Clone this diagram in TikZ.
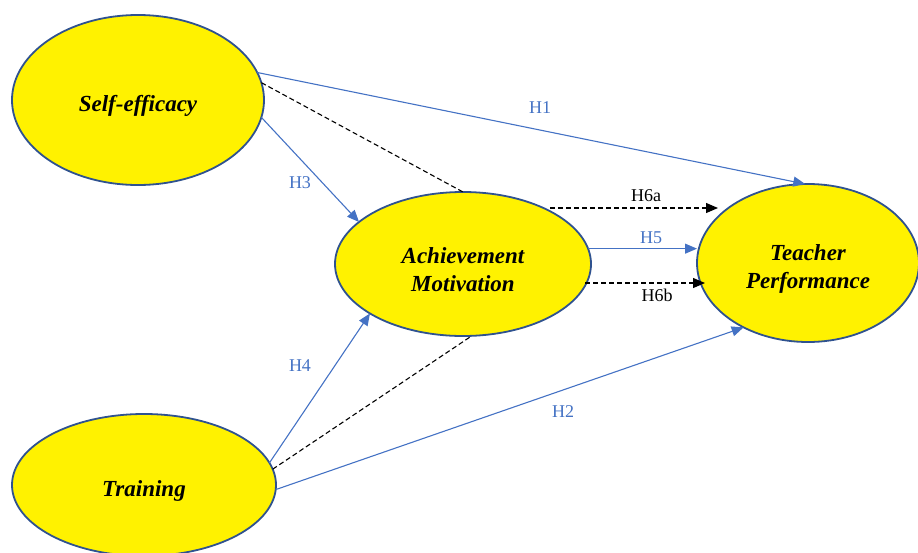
\documentclass[tikz,border=0pt]{standalone}
\usepackage{fontspec}
\setmainfont{Liberation Serif}
\usetikzlibrary{shapes.geometric, arrows.meta}
\definecolor{edgeblue}{RGB}{68,114,196}
\definecolor{rimblue}{RGB}{47,82,143}
\tikzset{>={Triangle[length=12pt,width=10pt]},
construct/.style={ellipse, draw=rimblue, line width=1.8pt, fill=yellow, inner sep=0pt, outer sep=0pt},
constext/.style={yshift=-6pt, align=center, font=\fontsize{23}{28}\selectfont\bfseries\itshape},
hyp/.style={->, draw=edgeblue, line width=1.1pt},
med/.style={black, dash pattern=on 5pt off 3pt, line width=1.1pt},
lbl/.style={font=\fontsize{18}{20}\selectfont, text=edgeblue},
}

\begin{document}
\begin{tikzpicture}[x=1pt, y=-1pt]
    \useasboundingbox (0,0) rectangle (918,552);
    \node[construct, minimum width=252pt, minimum height=170pt,
      label={[constext, name=se-text]center:Self-efficacy}] (se) at (138,100) {};
    \node[construct, minimum width=256pt, minimum height=144pt,
      label={[constext, name=am-text]center:Achievement\\Motivation}] (am) at (463,264) {};
    \node[construct, minimum width=222pt, minimum height=158pt,
      label={[constext, name=tp-text]center:Teacher\\Performance}] (tp) at (808,263) {};
    \node[construct, minimum width=264pt, minimum height=142pt,
      label={[constext, name=tr-text]center:Training}] (tr) at (144,485) {};
    % direct and indirect paths
    \draw[hyp] (se.13) -- (tp.92);
    \draw[med] (se.8) -- (am.north);
    \draw[hyp] (se.-8) -- (am.158);
    \draw[hyp] (tr.10) -- (am.208);
    \draw[med] (tr.7) -- (am.-83);
    \draw[hyp] (tr.-2) -- (tp.225);
    \draw[hyp] (am.7) -- (am.7 -| tp.west);
    \draw[med, ->] ([shift={(87pt,56pt)}]am.center) -- ([shift={(-90pt,55pt)}]tp.center);
    \draw[med, ->] ([shift={(122pt,-19pt)}]am.center) -- ([shift={(-103pt,-20pt)}]tp.center);
    % labels
    \node[lbl] (h1) at (540,108) {H1};
    \node[lbl] (h2) at (563,412) {H2};
    \node[lbl] (h3) at (300,183) {H3};
    \node[lbl] (h4) at (300,366) {H4};
    \node[lbl] (h5) at (651,238) {H5};
    \node[lbl, text=black] (h6a) at (646,196) {H6a};
    \node[lbl, text=black] (h6b) at (657,295) {H6b};
\end{tikzpicture}
\end{document}
